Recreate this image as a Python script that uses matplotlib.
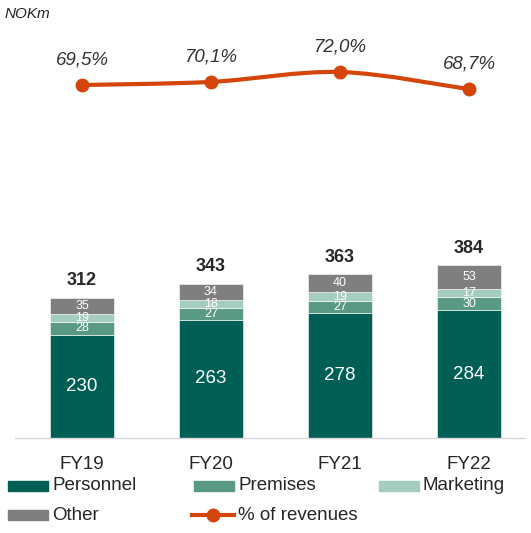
import matplotlib
matplotlib.use("Agg")
import matplotlib.pyplot as plt
from matplotlib.path import Path
from matplotlib.patches import PathPatch, Rectangle
from matplotlib.lines import Line2D

plt.rcParams['font.family'] = ['Liberation Sans', 'DejaVu Sans']

# ---- data ----
categories = ["FY19", "FY20", "FY21", "FY22"]
personnel = [230, 263, 278, 284]
premises = [28, 27, 27, 30]
marketing = [19, 18, 19, 17]
other = [35, 34, 40, 53]
totals = [312, 343, 363, 384]
pct_revenues = [69.5, 70.1, 72.0, 68.7]
pct_labels = ["69,5%", "70,1%", "72,0%", "68,7%"]

series_names = ["Personnel", "Premises", "Marketing", "Other"]
colors = ["#005F55", "#5A9A84", "#A4CDBE", "#7F7F7F"]
line_color = "#D4450C"

W, H = 531, 533
fig = plt.figure(figsize=(W / 100, H / 100), dpi=100)

# axes geometry (pixels)
ax_left, ax_right = 15, 525
ax_bottom_px, ax_top_px = 438, 0
ax = fig.add_axes([ax_left / W, 1 - ax_bottom_px / H, (ax_right - ax_left) / W,
                   (ax_bottom_px - ax_top_px) / H])
ax.set_xlim(-0.519, 3.434)
ax.set_ylim(0, 975)
x = list(range(len(categories)))
bw = 0.496

stack = [personnel, premises, marketing, other]
bottom = [0] * len(x)
for vals, col, name in zip(stack, colors, series_names):
    ax.bar(x, vals, bw, bottom=bottom, color=col, edgecolor="white", linewidth=0.4, label=name)
    for xi, v, b in zip(x, vals, bottom):
        if name == "Personnel":
            ax.text(xi, b + v / 2, str(v), ha="center", va="center", color="white", fontsize=13.5)
        else:
            ax.text(xi, b + v / 2, str(v), ha="center", va="center", color="white", fontsize=9)
    bottom = [b + v for b, v in zip(bottom, vals)]

for xi, t in zip(x, totals):
    ax.text(xi, t + 38, str(t), ha="center", va="center", fontsize=13, fontweight="bold", color="#262626")

for s in ["top", "right", "left"]:
    ax.spines[s].set_visible(False)
ax.spines["bottom"].set_color("#D9D9D9")
ax.spines["bottom"].set_linewidth(1)
ax.set_yticks([])
ax.set_xticks(x)
ax.set_xticklabels(categories, fontsize=13.5, color="#262626")
ax.tick_params(axis="x", length=0, pad=13)

# line on twin axis
ax2 = ax.twinx()
ax2.set_ylim(1.6, 85.85)
ax2.set_axis_off()
pts = list(zip(x, pct_revenues))
verts = [pts[0]]
codes = [Path.MOVETO]
n = len(pts)
for i in range(n - 1):
    p0 = pts[i - 1] if i > 0 else pts[i]
    p1 = pts[i]
    p2 = pts[i + 1]
    p3 = pts[i + 2] if i + 2 < n else pts[i + 1]
    c1 = (p1[0] + (p2[0] - p0[0]) / 6, p1[1] + (p2[1] - p0[1]) / 6)
    c2 = (p2[0] - (p3[0] - p1[0]) / 6, p2[1] - (p3[1] - p1[1]) / 6)
    verts += [c1, c2, p2]
    codes += [Path.CURVE4] * 3
ax2.add_patch(PathPatch(Path(verts, codes), fill=False, edgecolor=line_color, linewidth=3, capstyle="round"))
ax2.plot(x, pct_revenues, linestyle="none", marker="o", markersize=9, color=line_color)
for xi, v, lab in zip(x, pct_revenues, pct_labels):
    ax2.annotate(lab, (xi, v), xytext=(0, 18), textcoords="offset points", ha="center", va="center",
                 fontsize=13.5, style="italic", color="#333333")

fig.text(5 / W, 1 - 14 / H, "NOKm", fontsize=11, style="italic", color="#262626", va="center", ha="left")

# legend (manual)
def patch_item(px, py, color, label):
    fig.patches.append(Rectangle((px / W, 1 - (py + 5) / H), 40 / W, 10 / H, transform=fig.transFigure,
                                 color=color, figure=fig))
    fig.text((px + 44) / W, 1 - py / H, label, fontsize=13.5, color="#262626", va="center", ha="left")

patch_item(8, 486, colors[0], "Personnel")
patch_item(194, 486, colors[1], "Premises")
patch_item(379, 486, colors[2], "Marketing")
patch_item(8, 515, colors[3], "Other")
fig.lines.append(Line2D([192 / W, 234 / W], [1 - 515 / H, 1 - 515 / H], transform=fig.transFigure,
                        color=line_color, linewidth=3, figure=fig))
fig.lines.append(Line2D([213 / W], [1 - 515 / H], transform=fig.transFigure, color=line_color,
                        marker="o", markersize=9, linestyle="none", figure=fig))
fig.text(238 / W, 1 - 515 / H, "% of revenues", fontsize=13.5, color="#262626", va="center", ha="left")

fig.savefig("out.png", dpi=100)
